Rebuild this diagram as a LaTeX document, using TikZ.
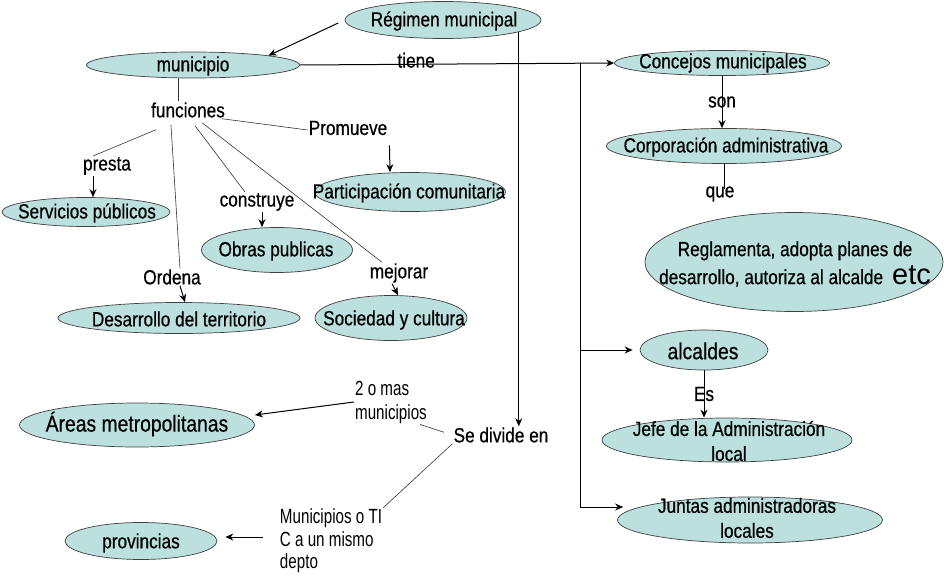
\documentclass[tikz,border=0pt]{standalone}
\usepackage{fontspec}
\setmainfont{Liberation Sans}[FakeStretch=0.84, FakeBold=0.5]
\newfontfamily\notefont{Liberation Sans}[FakeStretch=0.74]
\newfontfamily\etcfont{Liberation Sans}
\usepackage{tikz}
\usetikzlibrary{shapes.geometric, arrows, arrows.meta, calc, positioning}
\definecolor{conceptfill}{RGB}{187,224,222}
\tikzstyle{concept} = [ellipse, draw=black!75, line width=0.7pt, fill=conceptfill, inner sep=0pt]
\tikzstyle{ctext} = [inner sep=0pt, align=center]
\tikzstyle{word} = [inner sep=1pt, align=left]
\tikzstyle{note} = [word, font=\notefont\fontsize{20.5pt}{24pt}\selectfont]
\tikzstyle{wire} = [line width=1pt]
\tikzstyle{fline} = [line width=0.6pt, black!80]
\tikzstyle{arrow} = [line width=1pt,-{Stealth[length=8pt,width=7pt]}]

\begin{document}
\begin{tikzpicture}[x=1pt, y=-1pt, font=\fontsize{20.5pt}{23pt}\selectfont]
	\useasboundingbox (0,0) rectangle (944,578);
	% ellipses
	\node (reg) [concept, minimum width=196pt, minimum height=37pt] at (443,20) {};
	\node (mun) [concept, minimum width=213pt, minimum height=26pt] at (193,65) {};
	\node (part) [concept, minimum width=191pt, minimum height=39pt] at (410,192) {};
	\node (serv) [concept, minimum width=168pt, minimum height=29pt] at (86,212) {};
	\node (obras) [concept, minimum width=151pt, minimum height=45pt] at (277,250) {};
	\node (desa) [concept, minimum width=242pt, minimum height=31pt] at (179,318) {};
	\node (soc) [concept, minimum width=152pt, minimum height=45pt] at (391,318) {};
	\node (areas) [concept, minimum width=235pt, minimum height=44pt] at (137,425) {};
	\node (prov) [concept, minimum width=152pt, minimum height=37pt] at (141,541) {};
	\node (conc) [concept, minimum width=215pt, minimum height=25pt] at (722,63) {};
	\node (corp) [concept, minimum width=235pt, minimum height=35pt] at (724,146) {};
	\node (regl) [concept, minimum width=298pt, minimum height=99pt] at (794,262) {};
	\node (alc) [concept, minimum width=128pt, minimum height=40pt] at (704,350) {};
	\node (jefe) [concept, minimum width=250pt, minimum height=44pt] at (727,440) {};
	\node (junt) [concept, minimum width=265pt, minimum height=46pt] at (750,520) {};
	% texts of the ellipses
	\node (reg-t) [ctext] at (444,21) {Régimen municipal};
	\node (mun-t) [ctext] at (193,66) {municipio};
	\node (part-t) [ctext] at (409,193) {Participación comunitaria};
	\node (serv-t) [ctext] at (87,213) {Servicios públicos};
	\node (obras-t) [ctext] at (276,251) {Obras publicas};
	\node (desa-t) [ctext] at (179,319) {Desarrollo del territorio};
	\node (soc-t) [ctext] at (394,320) {Sociedad y cultura};
	\node (areas-t) [ctext, font=\fontsize{23pt}{26pt}\selectfont] at (137,424) {Áreas metropolitanas};
	\node (prov-t) [ctext] at (141,543) {provincias};
	\node (conc-t) [ctext] at (723,63) {Concejos municipales};
	\node (corp-t) [ctext] at (726,147) {Corporación administrativa};
	\node (regl-t) [ctext, font=\fontsize{20.5pt}{28pt}\selectfont] at (795,264) {Reglamenta, adopta planes de\\desarrollo, autoriza al alcalde\hspace{9pt}{\etcfont\fontsize{29pt}{28pt}\selectfont etc}};
	\node (alc-t) [ctext, font=\fontsize{23pt}{26pt}\selectfont] at (703,351) {alcaldes};
	\node (jefe-t) [ctext, font=\fontsize{20.5pt}{25pt}\selectfont] at (729,441) {Jefe de la Administración\\local};
	\node (junt-t) [ctext, font=\fontsize{20.5pt}{25pt}\selectfont] at (747,518) {Juntas administradoras\\locales};
	% link words
	\node (fun) [word] at (188,110) {funciones};
	\node (prom) [word] at (348,128) {Promueve};
	\node (presta) [word] at (107,166) {presta};
	\node (cons) [word] at (257,202) {construye};
	\node (ord) [word] at (172,277) {Ordena};
	\node (mej) [word] at (399,273) {mejorar};
	\node (que) [word] at (720,194) {que};
	\node (div) [word] at (501,435) {Se divide en};
	\node (two) [note] at (391,402) {2 o mas\\municipios};
	\node (tic) [note, font=\notefont\fontsize{20.5pt}{22.5pt}\selectfont] at (331,541) {Municipios o TI\\C a un mismo\\depto};
	\coordinate (trunk) at (580,63);
	\coordinate (jarr) at ($(junt.west)+(6,-13)$);
	% connectors
	\draw [arrow, shorten <=7pt] (reg.west) -- (mun.north east);
	\draw [arrow] (reg.-9) -- (reg.-9 |- div.north);
	\draw [arrow] (mun.east) -- node[word, pos=.37, yshift=4pt] (tiene) {tiene} (conc.west);
	\draw [wire] (trunk) -- (trunk |- jarr);
	\draw [arrow, shorten >=7pt] (trunk |- alc.west) -- (alc.west);
	\draw [arrow] (trunk |- jarr) -- (jarr);
	\draw [arrow] (conc.south) -- node[word] (son) {son} (conc.south |- corp.north);
	\draw [wire, shorten >=-4pt] (corp.south) -- (corp.south |- que.north);
	\draw [arrow] (alc.south) -- node[word] (es) {Es} (alc.south |- jefe.north);
	\draw [fline] ([xshift=-10pt]fun.north) -- ([xshift=-15pt]mun.south);
	\draw [fline] ([xshift=-4pt]fun.south east) -- ([yshift=-2pt]prom.west);
	\draw [arrow] ([xshift=1pt,yshift=-9pt]prom.south east) -- ([xshift=-20pt]part.north);
	\draw [fline] ([xshift=6pt,yshift=-11pt]fun.south west) -- ([xshift=-14pt]presta.north);
	\draw [arrow] ([xshift=-14pt]presta.south) -- ([xshift=7pt]serv.north);
	\draw [fline] ([xshift=21pt,yshift=-6pt]fun.south west) -- ([xshift=8pt]ord.north);
	\draw [arrow] ([xshift=8pt]ord.south) -- ([xshift=6pt]desa.north);
	\draw [fline] ([xshift=7pt,yshift=-7pt]fun.south) -- ([xshift=-12pt]cons.north);
	\draw [arrow] ([xshift=5pt]cons.south) -- ([xshift=-15pt]obras.north);
	\draw [fline] ([xshift=14pt,yshift=-4pt]fun.south) -- ([xshift=-17pt]mej.north);
	\draw [arrow] ([xshift=-7pt]mej.south) -- ([xshift=7pt]soc.north);
	\draw [fline, shorten >=9pt] ([xshift=-8pt]two.south east) -- (div.west);
	\draw [arrow] (two.west) -- ([yshift=10pt]areas.east);
	\draw [fline] (div.south west) -- (tic.north east);
	\draw [arrow, shorten <=16pt, shorten >=8pt] ([yshift=4pt]tic.west) -- ([yshift=4pt]prov.east);
\end{tikzpicture}
\end{document}
